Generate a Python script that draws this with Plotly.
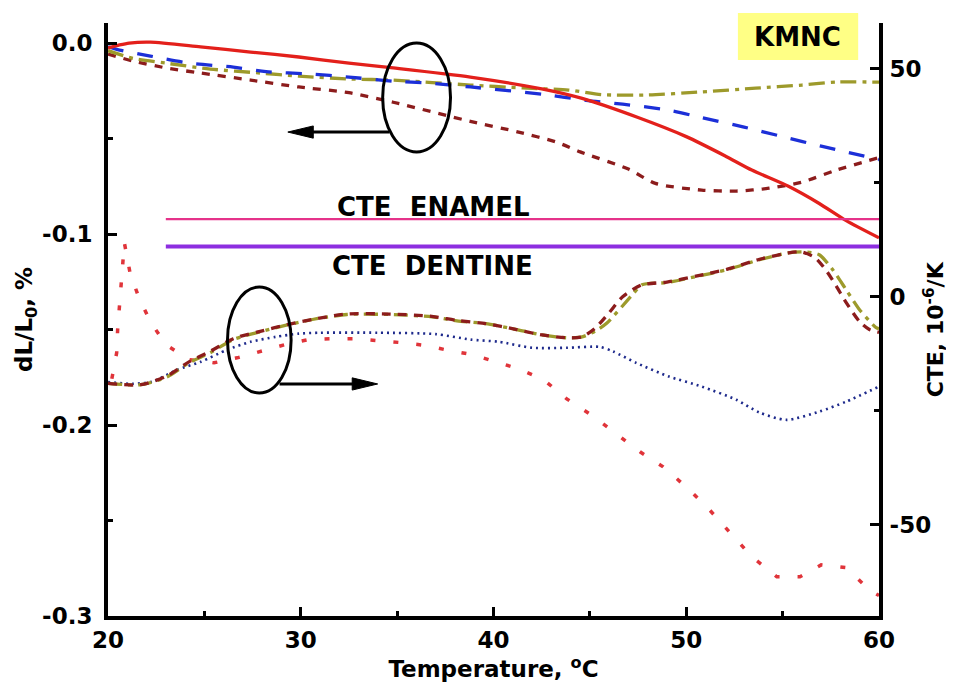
import plotly.graph_objects as go

# ---------------- data ----------------
# dL/L0 (%) curves, left axis
T_red = [20, 20.6, 21.1, 22.2, 24.8, 27.4, 29.9, 32.5, 34.8, 38.8, 42.5, 44.6, 47.5, 50.0, 52.0, 53.4, 55.3, 56.9, 58.3, 60]
dl_red = [-0.0026, -0.001, 0.0, 0.0005, -0.002, -0.0047, -0.0073, -0.0105, -0.013, -0.0178, -0.024, -0.029, -0.039, -0.049, -0.059, -0.0665, -0.075, -0.084, -0.093, -0.102]

T_blue = [20, 20.6, 22.2, 24.2, 26.5, 28.2, 30.5, 32.5, 34.8, 36.7, 38.8, 42.7, 44.8, 46.7, 49, 50.8, 53, 55, 57, 60]
dl_blue = [-0.002, -0.0037, -0.0068, -0.0105, -0.0126, -0.015, -0.0162, -0.0178, -0.020, -0.021, -0.023, -0.027, -0.030, -0.032, -0.035, -0.039, -0.044, -0.049, -0.054, -0.061]

T_olive = [20, 21.3, 23, 25.3, 27.9, 29.9, 32.5, 34.8, 38.8, 41.5, 43.9, 45.6, 47.9, 50.8, 53.6, 56, 57.8, 60]
dl_olive = [-0.004, -0.008, -0.0105, -0.0136, -0.0157, -0.0173, -0.0188, -0.0194, -0.022, -0.0235, -0.0246, -0.027, -0.0272, -0.0256, -0.0236, -0.022, -0.0204, -0.0205]

T_maroon = [20, 21.3, 23, 24.8, 27.4, 29.9, 32.5, 34.8, 38.8, 41.3, 43.3, 44.5, 47, 48.4, 50.8, 52.6, 54.3, 56, 57.8, 60]
dl_maroon = [-0.0058, -0.0094, -0.013, -0.0157, -0.0194, -0.023, -0.026, -0.031, -0.041, -0.0466, -0.052, -0.057, -0.066, -0.0735, -0.077, -0.0775, -0.076, -0.0728, -0.0665, -0.060]

# CTE (10^-6/K) curves, right axis
T_cte_red = [20.2, 20.45, 20.5, 20.6, 20.72, 20.85, 21.14, 21.6, 22.2, 23.0, 24.2, 25.5, 26.7, 27.9, 29.2, 30.4, 31.6, 32.8, 34.0, 35.3, 36.5, 37.7, 38.9, 40.2, 41.3, 42.6, 43.8, 45.1, 46.3, 47.6, 48.8, 50, 51.2, 52.3, 53.4, 54.7, 55.9, 57, 58.3, 59.5, 60]
cte_red = [-18, -12.3, -7.2, -1.8, 3.3, 11.8, 5.3, -0.2, -5.5, -10.5, -13.8, -14.5, -13.4, -12.1, -10.5, -9.4, -9.2, -9.2, -9.6, -10.1, -10.7, -11.8, -12.7, -14.3, -15.8, -18.2, -22.4, -26, -29.8, -34, -37.3, -41.7, -46.7, -51.8, -57, -61.4, -61.4, -58.8, -59.4, -64.3, -65.5]

T_cte_blue = [20, 21.3, 22.3, 23.6, 24.8, 26.2, 27.4, 28.7, 29.9, 31, 34, 37, 38.8, 40.3, 42, 43.8, 45.5, 46.2, 47.4, 49.1, 50.8, 52.6, 53.8, 55.2, 56.9, 58.3, 60]
cte_blue = [-18.7, -19.1, -18.6, -16, -14.3, -11.6, -9.9, -8.8, -8.1, -7.9, -7.9, -8.2, -9.4, -9.9, -11.2, -11.2, -11.0, -12, -14.5, -17.5, -19.7, -22.6, -25.4, -27, -25.2, -23, -19.7]

T_cte_olive = [20, 21.7, 23.1, 24.2, 25.3, 26.5, 27.9, 29.3, 30.6, 32.4, 34.6, 36.8, 38.1, 39.6, 41.2, 42.4, 43.8, 44.6, 45.3, 45.9, 47.2, 47.7, 49, 50.5, 52.1, 53.8, 55.3, 56.2, 56.9, 57.6, 58.3, 59, 59.85, 60]
cte_olive = [-19, -19.3, -17.5, -14.5, -12.3, -9.4, -7.7, -6.2, -5.0, -3.9, -3.9, -4.4, -5.3, -5.9, -7.2, -8.3, -9.0, -8.8, -7.5, -5.7, 0.4, 2.6, 3.1, 4.4, 5.9, 8.1, 9.6, 9.8, 9.2, 5.9, 1.5, -2.9, -6.8, -7.0]

T_cte_maroon = [20, 21.7, 23.1, 24.2, 25.3, 26.5, 27.9, 29.3, 30.6, 32.4, 34.6, 36.8, 38.1, 39.6, 41.2, 42.4, 43.8, 44.6, 45.3, 46, 46.7, 47.7, 49, 50.5, 52.1, 53.8, 55.3, 56, 56.7, 57.3, 57.8, 58.3, 59, 59.5, 60]
cte_maroon = [-19, -19.3, -17.3, -14.3, -12, -9.2, -7.6, -6.1, -5.0, -3.8, -3.8, -4.3, -5.2, -5.9, -7.2, -8.3, -9.0, -8.8, -6.8, -3.5, 0.0, 2.6, 3.2, 4.5, 6.0, 8.2, 9.6, 9.8, 8.5, 5.5, 2.2, -1.3, -5.5, -7.2, -7.8]

# reference CTE values of tooth tissues
T_ref_line = [23, 60]
cte_enamel = [17, 17]
cte_dentine = [11, 11]

# ticks
x_ticks = [20, 30, 40, 50, 60]
x_ticktext = ["20", "30", "40", "50", "60"]
x_minor = [25, 35, 45, 55]
y_ticks = [0.0, -0.1, -0.2, -0.3]
y_ticktext = ["0.0", "-0.1", "-0.2", "-0.3"]
y_minor = [-0.05, -0.15, -0.25]
y2_ticks = [50, 0, -50]
y2_ticktext = ["50", "0", "-50"]
y2_minor = [25, -25]

# ---------------- figure ----------------
FONT = "DejaVu Sans"
fig = go.Figure()


def add(x, y, color, width, dash, axis, shape="spline"):
    fig.add_trace(go.Scatter(
        x=x, y=y, mode="lines", yaxis=axis, showlegend=False, hoverinfo="skip",
        line=dict(color=color, width=width, dash=dash, shape=shape, smoothing=0.7),
    ))


# right axis traces
add(T_ref_line, cte_enamel, "#e5338a", 2.2, "solid", "y2", "linear")
add(T_ref_line, cte_dentine, "#8d2ee0", 4, "solid", "y2", "linear")
add(T_cte_red, cte_red, "#e0343a", 3.5, "5px,18px", "y2", "linear")
add(T_cte_blue, cte_blue, "#1e2a8c", 2.6, "2px,4px", "y2")
add(T_cte_olive, cte_olive, "#9d9a2b", 3.3, "14px,6px,4px,6px", "y2")
add(T_cte_maroon, cte_maroon, "#8c1c1c", 3.3, "9px,7px", "y2")

# left axis traces (drawn on y)
add(T_maroon, dl_maroon, "#8c1c1c", 3.3, "8px,8px", "y")
add(T_olive, dl_olive, "#9d9a2b", 3.3, "16px,6px,4px,6px", "y")
add(T_blue, dl_blue, "#1c2fd8", 3.3, "16px,14px", "y")
add(T_red, dl_red, "#e3201b", 3.3, "solid", "y")

axis_common = dict(
    showline=True, linewidth=4, linecolor="black", ticks="inside", ticklen=9,
    tickwidth=3, tickcolor="black", showgrid=False, zeroline=False, automargin=False,
    tickfont=dict(family=FONT, size=23, color="black", weight="bold"),
)

# the page body adds an 8px offset, so the figure is sized to fit the window
fig.update_layout(
    template="none",
    width=946, height=684,
    margin=dict(l=100, r=75, t=15, b=76),
    paper_bgcolor="white", plot_bgcolor="white",
    xaxis=dict(
        range=[20, 60], tickvals=x_ticks, ticktext=x_ticktext,
        minor=dict(tickvals=x_minor, ticks="inside", ticklen=5, tickwidth=3, tickcolor="black"),
        title=dict(text="Temperature, <sup>o</sup>C", standoff=4,
                   font=dict(family=FONT, size=23, color="black", weight="bold")),
        **axis_common,
    ),
    yaxis=dict(
        range=[-0.3, 0.0105], tickvals=y_ticks, ticktext=y_ticktext,
        minor=dict(tickvals=y_minor, ticks="inside", ticklen=5, tickwidth=3, tickcolor="black"),
        ticklabelstandoff=7,
        title=dict(text="dL/L<sub>0</sub>, %", standoff=4,
                   font=dict(family=FONT, size=23, color="black", weight="bold")),
        **axis_common,
    ),
    yaxis2=dict(
        overlaying="y", side="right",
        range=[-70, 60], tickvals=y2_ticks, ticktext=y2_ticktext,
        minor=dict(tickvals=y2_minor, ticks="inside", ticklen=5, tickwidth=3, tickcolor="black"),
        ticklabelstandoff=2,
        **axis_common,
    ),
)

# right axis title placed as rotated text (sits close to the tick labels, as in the reference)
fig.add_annotation(x=1.071, y=0.483, xref="paper", yref="paper", text="CTE, 10<sup>-6</sup>/K",
                   textangle=-90, showarrow=False, xanchor="center", yanchor="middle",
                   font=dict(family=FONT, size=22, color="black", weight="bold"))

# ellipses marking curve groups
fig.add_shape(type="circle", xref="x", yref="y", x0=34.25, x1=37.77, y0=-0.057, y1=0.0,
              line=dict(color="black", width=3))
fig.add_shape(type="circle", xref="x", yref="y", x0=26.2, x1=29.5, y0=-0.1832, y1=-0.1277,
              line=dict(color="black", width=3))

# arrows pointing to the corresponding axis (shaft + filled head)
fig.add_shape(type="line", xref="x", yref="y", x0=34.6, x1=30.3, y0=-0.0466, y1=-0.0466,
              line=dict(color="black", width=3))
fig.add_shape(type="path", xref="x", yref="y",
              path="M 29.33,-0.0466 L 30.65,-0.0434 L 30.65,-0.0498 Z",
              fillcolor="black", line=dict(color="black", width=1))
fig.add_shape(type="line", xref="x", yref="y", x0=28.9, x1=33.0, y0=-0.1785, y1=-0.1785,
              line=dict(color="black", width=3))
fig.add_shape(type="path", xref="x", yref="y",
              path="M 33.99,-0.1785 L 32.67,-0.1753 L 32.67,-0.1817 Z",
              fillcolor="black", line=dict(color="black", width=1))

# labels for reference lines
lab_font = dict(family=FONT, size=26, color="black", weight="bold")
fig.add_annotation(x=36.9, y=-0.0859, xref="x", yref="y", text="CTE\u00a0\u00a0ENAMEL",
                   showarrow=False, font=lab_font, xanchor="center", yanchor="middle")
fig.add_annotation(x=36.84, y=-0.1168, xref="x", yref="y", text="CTE\u00a0\u00a0DENTINE",
                   showarrow=False, font=lab_font, xanchor="center", yanchor="middle")

# sample label
fig.add_shape(type="rect", xref="paper", yref="paper", x0=0.817, x1=0.973, y0=0.9376, y1=1.0169,
              fillcolor="#ffff85", line=dict(width=0), layer="below")
fig.add_annotation(x=0.894, y=0.977, xref="paper", yref="paper", text="KMNC", showarrow=False,
                   xanchor="center", yanchor="middle",
                   font=dict(family=FONT, size=26, color="black", weight="bold"))

fig.write_html("out.html")
